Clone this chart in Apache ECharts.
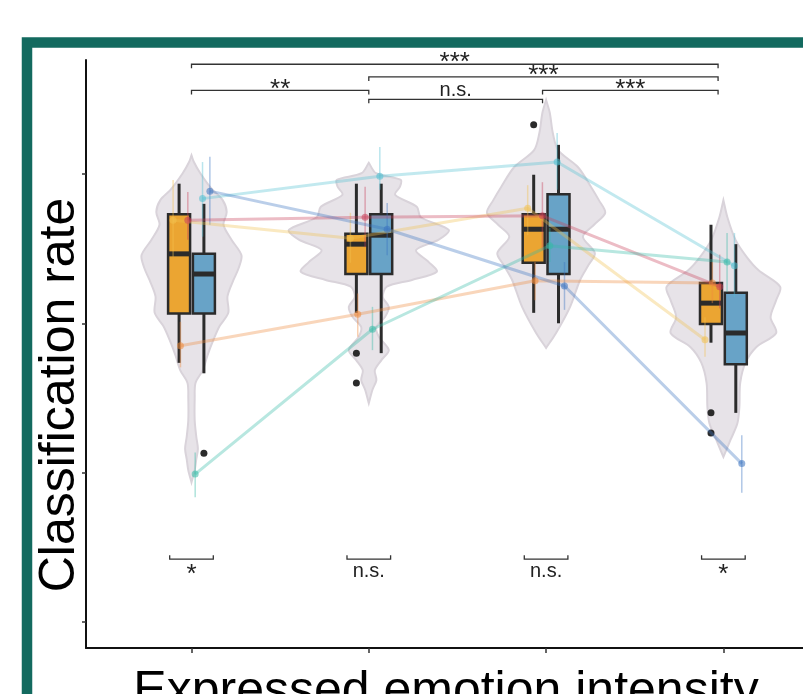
<!DOCTYPE html>
<html>
<head>
<meta charset="utf-8">
<script src="https://cdn.jsdelivr.net/npm/echarts@6/dist/echarts.min.js"></script>
<style>
  html, body { margin: 0; padding: 0; background: #fff; }
  #chart { width: 803px; height: 694px; }
</style>
</head>
<body>
<div id="chart"></div>
<script>
// emotion intensity levels (x positions of the groups)
const groups = [1, 2, 3, 4];

// boxplots: [min, q1, median, q3, max]
const boxOrange = [
  [0.547, 0.613, 0.693, 0.746, 0.787],
  [0.614, 0.666, 0.706, 0.720, 0.787],
  [0.614, 0.681, 0.726, 0.746, 0.799],
  [0.574, 0.599, 0.627, 0.654, 0.732]
];
const boxBlue = [
  [0.533, 0.613, 0.666, 0.693, 0.760],
  [0.560, 0.666, 0.718, 0.746, 0.787],
  [0.600, 0.666, 0.726, 0.773, 0.839],
  [0.480, 0.545, 0.587, 0.641, 0.706]
];
// outliers: [group, rate]
const outOrange = [[2, 0.560], [2, 0.520], [3, 0.866], [4, 0.480], [4, 0.453]];
const outBlue = [[1, 0.426]];

// violin profiles: [rate, relative density]
const violin1 = [
  [0.825, 0], [0.816, 0.03], [0.801, 0.11], [0.779, 0.26], [0.765, 0.39], [0.749, 0.44],
  [0.732, 0.40], [0.712, 0.50], [0.691, 0.625], [0.674, 0.59], [0.658, 0.525], [0.636, 0.45],
  [0.614, 0.46], [0.596, 0.35], [0.578, 0.275], [0.557, 0.20], [0.537, 0.14], [0.520, 0.05],
  [0.500, 0.04], [0.470, 0.04], [0.448, 0.06], [0.432, 0.08], [0.418, 0.06], [0.403, 0.04], [0.387, 0]
];
const violin2 = [
  [0.815, 0], [0.801, 0.09], [0.792, 0.40], [0.783, 0.39], [0.772, 0.33], [0.756, 0.60],
  [0.742, 0.65], [0.725, 1.0], [0.712, 0.875], [0.698, 0.59], [0.682, 0.75], [0.669, 0.85],
  [0.658, 0.54], [0.649, 0.225], [0.635, 0.175], [0.622, 0.25], [0.608, 0.20], [0.595, 0.095],
  [0.582, 0.125], [0.564, 0.25], [0.551, 0.16], [0.537, 0.075], [0.524, 0.095], [0.511, 0.046], [0.493, 0]
];
const violin3 = [
  [0.899, 0], [0.882, 0.046], [0.855, 0.084], [0.832, 0.15], [0.809, 0.40], [0.783, 0.56],
  [0.765, 0.66], [0.748, 0.74], [0.732, 0.60], [0.716, 0.46], [0.694, 0.61], [0.678, 0.53],
  [0.658, 0.425], [0.622, 0.30], [0.587, 0.125], [0.567, 0]
];
const violin4 = [
  [0.765, 0], [0.742, 0.05], [0.712, 0.15], [0.689, 0.29], [0.671, 0.44], [0.649, 0.71],
  [0.631, 0.66], [0.608, 0.59], [0.587, 0.66], [0.568, 0.41], [0.547, 0.275], [0.520, 0.21],
  [0.488, 0.20], [0.466, 0.175], [0.444, 0.09], [0.421, 0]
];
const violins = [violin1, violin2, violin3, violin4];

// individual subjects: per group [mean, low, high]
const subjYellow = [[0.738, 0.689, 0.792], [0.714, 0.681, 0.748], [0.754, 0.718, 0.785], [0.578, 0.555, 0.608]];
const subjOrange = [[0.570, 0.541, 0.602], [0.612, 0.582, 0.640], [0.657, 0.631, 0.682], [0.654, 0.627, 0.682]];
const subjRed    = [[0.738, 0.712, 0.776], [0.742, 0.702, 0.783], [0.744, 0.698, 0.789], [0.649, 0.620, 0.692]];
const subjTeal   = [[0.398, 0.367, 0.427], [0.592, 0.564, 0.622], [0.704, 0.682, 0.728], [0.682, 0.642, 0.721]];
const subjCyan   = [[0.767, 0.716, 0.816], [0.797, 0.779, 0.836], [0.816, 0.779, 0.855], [0.677, 0.635, 0.721]];
const subjBlue   = [[0.777, 0.732, 0.823], [0.726, 0.691, 0.761], [0.650, 0.618, 0.682], [0.412, 0.373, 0.450]];
const subjects = [subjYellow, subjOrange, subjRed, subjTeal, subjCyan, subjBlue];
const subjColors = ['#f2c14e', '#ef8a3c', '#c8405a', '#35b9a5', '#4fbfd2', '#3a72c0'];

// significance brackets: [x from, x to, level]
const topBrackets = [[1.0, 3.97, 0.947], [2.0, 3.97, 0.930], [1.0, 2.0, 0.912], [2.98, 3.97, 0.912], [2.0, 2.98, 0.900]];
const topLabels = ['***', '***', '**', '***', 'n.s.'];
const pairLevel = 0.284;
const pairLabels = ['*', 'n.s.', 'n.s.', '*'];

const yTicks = [0.2, 0.4, 0.6, 0.8];

const DARK = '#2b2b2b';
const BOX_SHIFT = 0.07;
const BOX_HALF = 0.062;
const DODGE = 0.0415;
const VIOLIN_SCALE = 0.451;
const PAIR_HALF = 0.123;
const FONT = '"Liberation Sans", Arial, sans-serif';

const chart = echarts.init(document.getElementById('chart'));

function boxSeries(stats, side, fill) {
  return {
    type: 'custom',
    silent: true,
    z: 3,
    data: stats.map((s, i) => [groups[i] + side * BOX_SHIFT].concat(s)),
    encode: { x: 0, y: [1, 2, 3, 4, 5] },
    renderItem: (params, api) => {
      const x = api.value(0);
      const hw = api.size([BOX_HALF, 0])[0];
      const pMin = api.coord([x, api.value(1)]);
      const pQ1 = api.coord([x, api.value(2)]);
      const pMed = api.coord([x, api.value(3)]);
      const pQ3 = api.coord([x, api.value(4)]);
      const pMax = api.coord([x, api.value(5)]);
      const cx = pMin[0];
      return {
        type: 'group',
        children: [
          { type: 'line', shape: { x1: cx, y1: pMax[1], x2: cx, y2: pQ3[1] }, style: { stroke: DARK, lineWidth: 3 } },
          { type: 'line', shape: { x1: cx, y1: pQ1[1], x2: cx, y2: pMin[1] }, style: { stroke: DARK, lineWidth: 3 } },
          { type: 'rect', shape: { x: cx - hw, y: pQ3[1], width: hw * 2, height: pQ1[1] - pQ3[1] },
            style: { fill: fill, stroke: DARK, lineWidth: 2.5 } },
          { type: 'line', shape: { x1: cx - hw, y1: pMed[1], x2: cx + hw, y2: pMed[1] }, style: { stroke: DARK, lineWidth: 5 } }
        ]
      };
    }
  };
}

function outlierSeries(points, side) {
  return {
    type: 'scatter',
    silent: true,
    z: 3,
    symbolSize: 7,
    itemStyle: { color: DARK, opacity: 1 },
    data: points.map(p => [p[0] + side * BOX_SHIFT, p[1]])
  };
}

const series = [];

// violins
series.push({
  type: 'custom',
  silent: true,
  z: 1,
  data: groups.map(g => [g, 0.6]),
  renderItem: (params, api) => {
    const prof = violins[params.dataIndex];
    const g = api.value(0);
    const right = prof.map(p => api.coord([g + p[1] * VIOLIN_SCALE, p[0]]));
    const left = prof.slice().reverse().map(p => api.coord([g - p[1] * VIOLIN_SCALE, p[0]]));
    return {
      type: 'polygon',
      shape: { points: right.concat(left), smooth: 0.3 },
      style: { fill: '#e7e3e8', stroke: '#d9d3da', lineWidth: 2 }
    };
  }
});

series.push(boxSeries(boxOrange, -1, '#eba532'));
series.push(boxSeries(boxBlue, 1, '#68a3c7'));
series.push(outlierSeries(outOrange, -1));
series.push(outlierSeries(outBlue, 1));

// subjects: error bars + connecting lines
subjects.forEach((arr, s) => {
  const dx = DODGE * (s - 2.5);
  const col = subjColors[s];
  series.push({
    type: 'custom',
    silent: true,
    z: 4,
    data: arr.map((d, i) => [groups[i] + dx, d[1], d[2]]),
    encode: { x: 0, y: [1, 2] },
    renderItem: (params, api) => {
      const lo = api.coord([api.value(0), api.value(1)]);
      const hi = api.coord([api.value(0), api.value(2)]);
      return {
        type: 'line',
        shape: { x1: lo[0], y1: lo[1], x2: hi[0], y2: hi[1] },
        style: { stroke: col, lineWidth: 1.5, opacity: 0.4 }
      };
    }
  });
  series.push({
    type: 'line',
    silent: true,
    z: 5,
    data: arr.map((d, i) => [groups[i] + dx, d[0]]),
    symbol: 'circle',
    symbolSize: 7,
    showSymbol: true,
    lineStyle: { color: col, width: 3, opacity: 0.35 },
    itemStyle: { color: col, opacity: 0.55 }
  });
});

// significance brackets above
series.push({
  type: 'custom',
  silent: true,
  z: 6,
  data: topBrackets,
  encode: { x: [0, 1], y: 2 },
  renderItem: (params, api) => {
    const a = api.coord([api.value(0), api.value(2)]);
    const b = api.coord([api.value(1), api.value(2)]);
    const label = topLabels[params.dataIndex];
    const stars = label.indexOf('*') >= 0;
    return {
      type: 'group',
      children: [
        { type: 'polyline', shape: { points: [[a[0], a[1] + 4], a, b, [b[0], b[1] + 4]] },
          style: { stroke: '#333', lineWidth: 1.3, fill: null } },
        { type: 'text', style: {
            text: label, x: (a[0] + b[0]) / 2, y: stars ? a[1] - 1 : a[1] - 9,
            align: 'center', verticalAlign: 'middle',
            fontSize: stars ? 26 : 20, fontFamily: FONT, fill: '#222' } }
      ]
    };
  }
});

// significance brackets within each group
series.push({
  type: 'custom',
  silent: true,
  z: 6,
  data: groups.map(g => [g - PAIR_HALF, g + PAIR_HALF, pairLevel]),
  encode: { x: [0, 1], y: 2 },
  renderItem: (params, api) => {
    const a = api.coord([api.value(0), api.value(2)]);
    const b = api.coord([api.value(1), api.value(2)]);
    const label = pairLabels[params.dataIndex];
    const stars = label.indexOf('*') >= 0;
    return {
      type: 'group',
      children: [
        { type: 'polyline', shape: { points: [[a[0], a[1] - 4], a, b, [b[0], b[1] - 4]] },
          style: { stroke: '#333', lineWidth: 1.3, fill: null } },
        { type: 'text', style: {
            text: label, x: (a[0] + b[0]) / 2, y: stars ? a[1] + 16 : a[1] + 12,
            align: 'center', verticalAlign: 'middle',
            fontSize: stars ? 26 : 20, fontFamily: FONT, fill: '#222' } }
      ]
    };
  }
});

chart.setOption({
  animation: false,
  backgroundColor: '#fff',
  grid: { left: 86, right: 0, top: 60, bottom: 46 },
  xAxis: {
    type: 'value',
    min: 0.405,
    max: 4.449,
    splitLine: { show: false },
    axisLine: { onZero: false, lineStyle: { color: '#111', width: 2 } },
    axisTick: { show: true, customValues: groups, length: 5, lineStyle: { color: '#333', width: 1.5 } },
    axisLabel: { show: false }
  },
  yAxis: {
    type: 'value',
    min: 0.165,
    max: 0.9527,
    splitLine: { show: false },
    axisLine: { show: true, onZero: false, lineStyle: { color: '#111', width: 2 } },
    axisTick: { show: true, customValues: yTicks, length: 4, lineStyle: { color: '#333', width: 1.5 } },
    axisLabel: { show: false }
  },
  graphic: [
    { type: 'rect', z: 10, silent: true,
      shape: { x: 27, y: 42.5, width: 1200, height: 1200 },
      style: { fill: null, stroke: '#136a5f', lineWidth: 10.5 } },
    { type: 'text', z: 10, silent: true, x: 60, y: 395, rotation: Math.PI / 2,
      style: { text: 'Classification rate', fontSize: 50, fontFamily: FONT, fill: '#000',
               align: 'center', verticalAlign: 'middle' } },
    { type: 'text', z: 10, silent: true, x: 446, y: 692,
      style: { text: 'Expressed emotion intensity', fontSize: 50, fontFamily: FONT, fill: '#000',
               align: 'center', verticalAlign: 'middle' } }
  ],
  series: series
});
</script>
</body>
</html>
